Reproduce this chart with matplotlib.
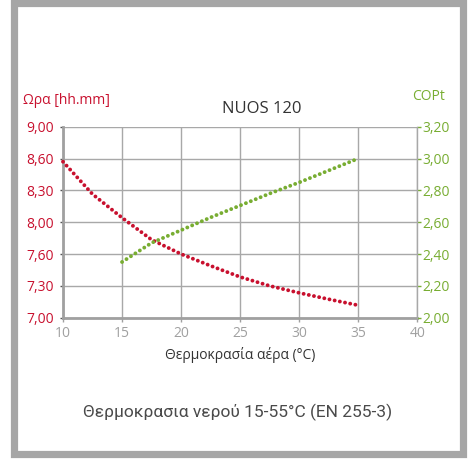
import matplotlib
matplotlib.use("Agg")
import matplotlib.pyplot as plt
from matplotlib.patches import Rectangle

# ---- data ----
air_temp = [10, 12.5, 15, 17.5, 20, 22.5, 25, 27.5, 30, 32.5, 35]
# heating time, expressed in left-axis grid positions (0 = "7,00" ... 6 = "9,00")
time_pos = [4.90, 3.88, 3.14, 2.45, 2.00, 1.63, 1.28, 1.00, 0.78, 0.58, 0.39]
cop_temp = [15, 17.5, 20, 22.5, 25, 27.5, 30, 32.5, 35]
cop_vals = [2.35, 2.47, 2.55, 2.63, 2.705, 2.78, 2.85, 2.925, 3.00]

left_labels = ["7,00", "7,30", "7,60", "8,00", "8,30", "8,60", "9,00"]
right_ticks = [2.0, 2.2, 2.4, 2.6, 2.8, 3.0, 3.2]
right_labels = ["2,00", "2,20", "2,40", "2,60", "2,80", "3,00", "3,20"]
x_ticks = [10, 15, 20, 25, 30, 35, 40]

RED = "#c8102e"
GREEN = "#78ad32"
GRID = "#a8a8a8"
TICKGRAY = "#a0a0a0"

plt.rcParams['font.family'] = ['Open Sans', 'DejaVu Sans']

W, H = 474, 465
fig = plt.figure(figsize=(W / 100, H / 100), dpi=100)
fig.patch.set_facecolor("white")

# gray frame
fig.patches.append(Rectangle((13.5 / W, 11.5 / H), (463 - 13.5) / W, (461.5 - 11.5) / H,
                             transform=fig.transFigure, fill=False,
                             edgecolor="#a6a6a6", linewidth=5.2, zorder=0))

ax = fig.add_axes([63 / W, (H - 317.7) / H, (417.3 - 63) / W, (317.7 - 126.7) / H])
ax.set_xlim(10, 40)
ax.set_ylim(0, 6)
ax.set_xticks(x_ticks)
ax.set_yticks(range(7))
ax.set_yticklabels(left_labels)
ax.grid(True, color=GRID, linewidth=1.0)
ax.set_axisbelow(True)
for s in ["top", "right"]:
    ax.spines[s].set_visible(False)
ax.spines["left"].set_color("#a0a0a0")
ax.spines["left"].set_linewidth(2.0)
ax.spines["bottom"].set_color("#a0a0a0")
ax.spines["bottom"].set_linewidth(2.0)
ax.tick_params(axis="y", colors=RED, labelsize=10, length=2.5, width=1, pad=4)
ax.tick_params(axis="y", color="#555555")
ax.tick_params(axis="x", colors=TICKGRAY, labelsize=10, length=3, width=1, pad=3)

ax2 = ax.twinx()
ax2.set_ylim(2.0, 3.2)
ax2.set_yticks(right_ticks)
ax2.set_yticklabels(right_labels)
for s in ["top", "left", "bottom"]:
    ax2.spines[s].set_visible(False)
ax2.spines["right"].set_color(GRID)
ax2.spines["right"].set_linewidth(1.0)
ax2.tick_params(axis="y", colors=GREEN, labelsize=10, length=3, width=1, pad=1)

dot = (0, (0.01, 1.35))
ax.plot(air_temp, time_pos, color=RED, linewidth=2.8, linestyle=dot,
        dash_capstyle="round", zorder=3, clip_on=False)
ax2.plot(cop_temp, cop_vals, color=GREEN, linewidth=2.8, linestyle=dot,
         dash_capstyle="round", zorder=3, clip_on=False)

ax.set_xlabel("Θερμοκρασία αέρα (°C)", color="#333333", fontsize=10, labelpad=4)

fig.text(262 / W, 1 - 109 / H, "NUOS 120", ha="center", va="center",
         fontsize=12, color="#333333")
fig.text(110 / W, 1 - 101 / H, "Ωρα [hh.mm]", ha="right", va="center",
         fontsize=10, color=RED)
fig.text(429 / W, 1 - 97 / H, "COPt", ha="center", va="center",
         fontsize=10, color=GREEN)
fig.text(238 / W, 1 - 412 / H, "Θερμοκρασια νερού 15-55°C (EN 255-3)",
         ha="center", va="center", fontsize=12.5, color="#4a4a4a",
         family=["Roboto", "DejaVu Sans"])

fig.savefig("out.png", dpi=100, facecolor="white")
